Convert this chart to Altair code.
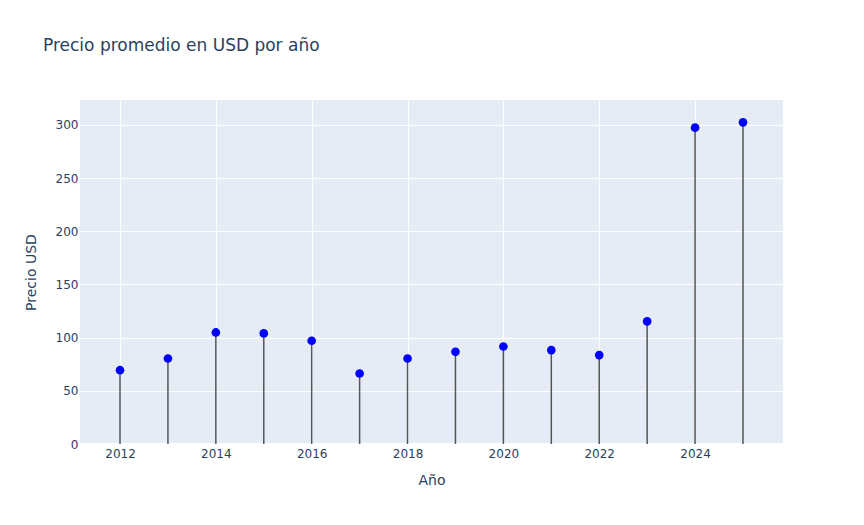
import altair as alt
import pandas as pd

years = [2012, 2013, 2014, 2015, 2016, 2017, 2018, 2019, 2020, 2021, 2022, 2023, 2024, 2025]
prices = [69.4, 80.4, 104.9, 104.0, 97.1, 66.3, 80.4, 86.7, 91.7, 88.3, 83.6, 115.3, 297.5, 302.5]

df = pd.DataFrame({"Año": years, "Precio": prices, "Cero": [0] * len(years)})

FONT = "DejaVu Sans"
TXT = "#2a3f5f"

x = alt.X("Año:Q", title="Año",
          scale=alt.Scale(domain=[2011.165, 2025.835], nice=False, zero=False),
          axis=alt.Axis(values=list(range(2012, 2026, 2)), format="d", grid=True,
                        gridColor="white", gridWidth=1, domain=False, ticks=False,
                        labelPadding=4, labelFontSize=12, labelColor=TXT, labelFont=FONT,
                        titleFontSize=14, titleColor=TXT, titleFont=FONT, titleFontWeight="normal",
                        titlePadding=14))
y = alt.Y("Precio:Q", title="Precio USD",
          scale=alt.Scale(domain=[0, 323.5], nice=False),
          axis=alt.Axis(values=[0, 50, 100, 150, 200, 250, 300], grid=True,
                        gridColor="white", gridWidth=1, domain=False, ticks=False,
                        labelPadding=2, labelFontSize=12, labelColor=TXT, labelFont=FONT,
                        titleFontSize=14, titleColor=TXT, titleFont=FONT, titleFontWeight="normal",
                        titlePadding=17))

stems = alt.Chart(df).mark_rule(color="#555555", strokeWidth=1.5).encode(
    x=x, y=alt.Y("Cero:Q", scale=alt.Scale(domain=[0, 323.5], nice=False)), y2="Precio:Q")
zero = alt.Chart(df).mark_rule(color="white", strokeWidth=2).encode(
    y=alt.datum(0))
points = alt.Chart(df).mark_circle(color="#0000ff", opacity=1, size=75).encode(x=x, y=y)

chart = alt.layer(zero, stems, points).properties(
    width=703, height=344,
    title=alt.TitleParams("Precio promedio en USD por año", anchor="start", frame="group",
                          dx=-37, dy=-41,
                          fontSize=17, font=FONT, color=TXT, fontWeight="normal"),
    autosize=alt.AutoSizeParams(type="none"),
    padding={"left": 72, "top": 92, "right": 73, "bottom": 73},
).configure(background="white").configure_view(fill="#E5ECF6", strokeWidth=0)

chart.save("out.html", embed_options={"renderer": "svg", "actions": False})
